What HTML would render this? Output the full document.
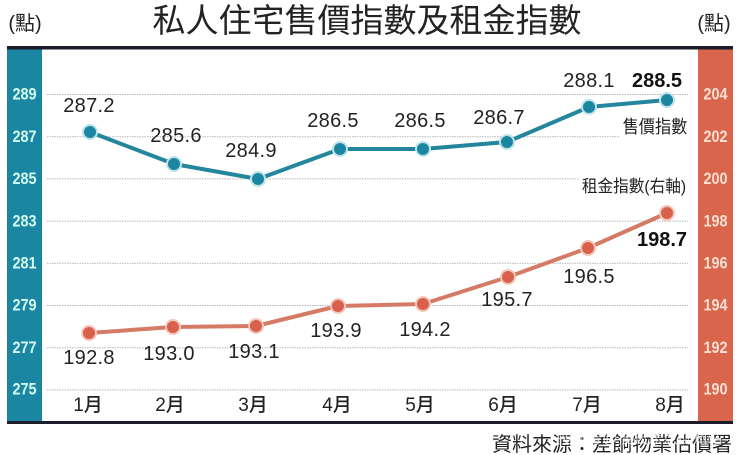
<!DOCTYPE html>
<html><head><meta charset="utf-8">
<style>
html,body{margin:0;padding:0;background:#fff;}
svg{display:block;}
text{font-family:"Liberation Sans","Noto Sans CJK TC",sans-serif;}
</style></head>
<body>
<svg width="740" height="455" viewBox="0 0 740 455" xmlns="http://www.w3.org/2000/svg">
<rect x="0" y="0" width="740" height="455" fill="#ffffff"/>
<!-- title -->
<text x="367" y="32" font-size="33" fill="#222" text-anchor="middle">私人住宅售價指數及租金指數</text>
<text x="25" y="30" font-size="20" fill="#222" text-anchor="middle">(點)</text>
<text x="714" y="30" font-size="20" fill="#222" text-anchor="middle">(點)</text>
<!-- bands -->
<rect x="7" y="48" width="35" height="373" fill="#1a86a2"/>
<rect x="698" y="48" width="35" height="373" fill="#d9654d"/>
<rect x="7" y="46" width="726" height="3.5" fill="#1c1d2b"/>
<rect x="7" y="421" width="726" height="3" fill="#1c1d2b"/>
<!-- gridlines -->
<g stroke="#b5b5b5" stroke-width="1" stroke-dasharray="1.5 1">
<line x1="47" y1="94.5" x2="688" y2="94.5"/>
<line x1="47" y1="136.7" x2="688" y2="136.7"/>
<line x1="47" y1="178.9" x2="688" y2="178.9"/>
<line x1="47" y1="221.1" x2="688" y2="221.1"/>
<line x1="47" y1="263.3" x2="688" y2="263.3"/>
<line x1="47" y1="305.5" x2="688" y2="305.5"/>
<line x1="47" y1="347.7" x2="688" y2="347.7"/>
<line x1="47" y1="389.9" x2="688" y2="389.9"/>
</g>
<!-- left axis -->
<g font-size="17" font-weight="bold" fill="#d4fbf2" text-anchor="middle" transform="translate(24.5 0) scale(0.85 1) translate(-24.5 0)">
<text x="24.5" y="99.5">289</text>
<text x="24.5" y="142">287</text>
<text x="24.5" y="184">285</text>
<text x="24.5" y="226.5">283</text>
<text x="24.5" y="268.5">281</text>
<text x="24.5" y="310.5">279</text>
<text x="24.5" y="353">277</text>
<text x="24.5" y="394.5">275</text>
</g>
<g font-size="17" font-weight="bold" fill="#fbe0d2" text-anchor="middle" transform="translate(715.5 0) scale(0.85 1) translate(-715.5 0)">
<text x="715.5" y="99.5">204</text>
<text x="715.5" y="142">202</text>
<text x="715.5" y="184">200</text>
<text x="715.5" y="226.5">198</text>
<text x="715.5" y="268.5">196</text>
<text x="715.5" y="310.5">194</text>
<text x="715.5" y="353">192</text>
<text x="715.5" y="394.5">190</text>
</g>
<!-- label backgrounds for legends -->
<rect x="620" y="114" width="70" height="24" fill="#fff"/>
<rect x="578" y="174" width="112" height="22" fill="#fff"/>
<!-- sale line -->
<polyline points="90,132 174,164 258,179 340,149 423,149 507,142 589,107 667,100" fill="none" stroke="#24869c" stroke-width="4" stroke-linejoin="round"/>
<g fill="#1b86a1" stroke="#bfe3ea" stroke-width="2">
<circle cx="90" cy="132" r="7"/>
<circle cx="174" cy="164" r="7"/>
<circle cx="258" cy="179" r="7"/>
<circle cx="340" cy="149" r="7"/>
<circle cx="423" cy="149" r="7"/>
<circle cx="507" cy="142" r="7"/>
<circle cx="589" cy="107" r="7"/>
<circle cx="667" cy="100" r="7"/>
</g>
<!-- rent line -->
<polyline points="89,333 173,327 256,326 338,306 423,304 508,277 588,248 667,213" fill="none" stroke="#d57a65" stroke-width="4" stroke-linejoin="round"/>
<g fill="#d9604b" stroke="#f3c8bc" stroke-width="2">
<circle cx="89" cy="333" r="7"/>
<circle cx="173" cy="327" r="7"/>
<circle cx="256" cy="326" r="7"/>
<circle cx="338" cy="306" r="7"/>
<circle cx="423" cy="304" r="7"/>
<circle cx="508" cy="277" r="7"/>
<circle cx="588" cy="248" r="7"/>
<circle cx="667" cy="213" r="7"/>
</g>
<!-- sale labels -->
<g font-size="20" fill="#222" text-anchor="middle" letter-spacing="0.3">
<text x="89" y="112">287.2</text>
<text x="176" y="142">285.6</text>
<text x="251" y="157">284.9</text>
<text x="333" y="127">286.5</text>
<text x="420" y="127">286.5</text>
<text x="499" y="124">286.7</text>
<text x="589" y="87">288.1</text>
</g>
<text x="657" y="87" font-size="20" font-weight="bold" fill="#111" text-anchor="middle">288.5</text>
<text x="655" y="133" font-size="18" fill="#222" text-anchor="middle" transform="translate(655 0) scale(0.9 1) translate(-655 0)">售價指數</text>
<!-- rent labels -->
<g font-size="20" fill="#222" text-anchor="middle" letter-spacing="0.3">
<text x="89" y="364">192.8</text>
<text x="169" y="360">193.0</text>
<text x="254" y="358">193.1</text>
<text x="336" y="337">193.9</text>
<text x="425" y="336">194.2</text>
<text x="507" y="306">195.7</text>
<text x="589" y="283">196.5</text>
</g>
<text x="662" y="246" font-size="20" font-weight="bold" fill="#111" text-anchor="middle">198.7</text>
<text x="634" y="192" font-size="17" fill="#222" text-anchor="middle" transform="translate(634 0) scale(0.92 1) translate(-634 0)">租金指數(右軸)</text>
<!-- months -->
<g font-size="19" fill="#222" text-anchor="middle" font-weight="500">
<text x="88" y="411">1月</text>
<text x="170" y="411">2月</text>
<text x="253" y="411">3月</text>
<text x="337" y="411">4月</text>
<text x="420" y="411">5月</text>
<text x="503" y="411">6月</text>
<text x="587" y="411">7月</text>
<text x="670" y="411">8月</text>
</g>
<!-- source -->
<text x="732" y="451" font-size="20" fill="#222" text-anchor="end">資料來源：差餉物業估價署</text>
<text x="640" y="443" font-size="15" fill="#ffffff" fill-opacity="0.75" text-anchor="middle">搜狐号@搜狐焦点柳州站</text>
</svg>
</body></html>
